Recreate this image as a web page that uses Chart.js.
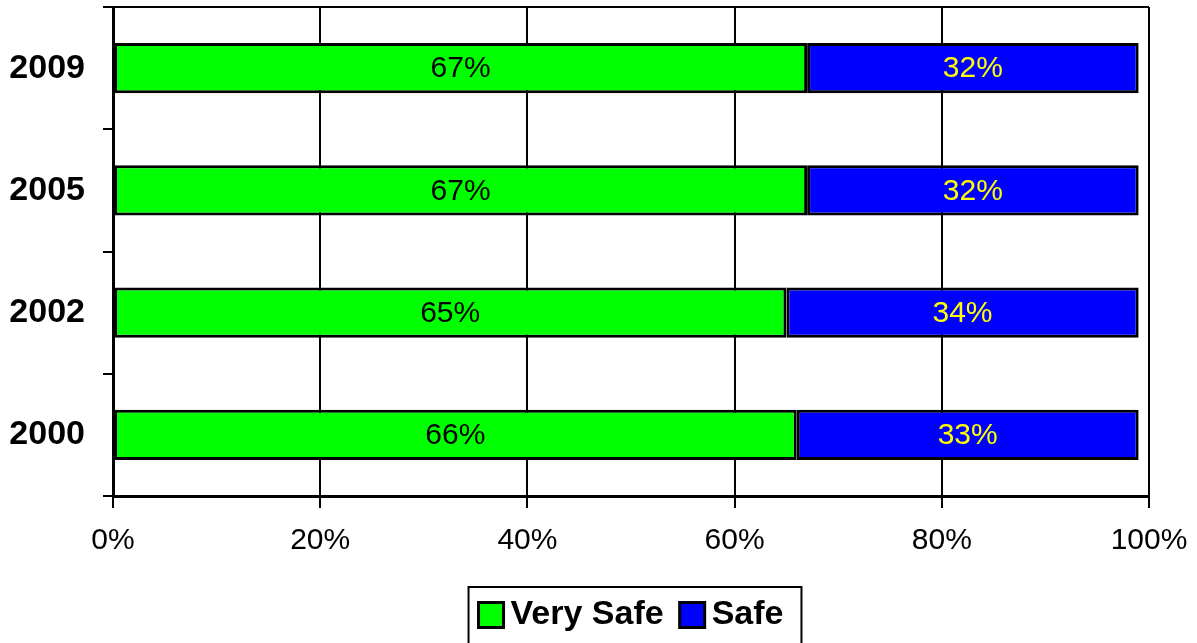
<!DOCTYPE html>
<html>
<head>
<meta charset="utf-8">
<script src="https://cdn.jsdelivr.net/npm/chart.js@4"></script>
<style>
  html, body { margin: 0; padding: 0; background: #fff; }
  #wrap { width: 1197px; height: 643px; }
</style>
</head>
<body>
<div id="wrap"><canvas id="chart"></canvas></div>
<script>
// 데이터
const years = ["2009", "2005", "2002", "2000"];
const verySafe = [67, 67, 65, 66];
const safe = [32, 32, 34, 33];
const xTicks = [0, 20, 40, 60, 80, 100];

const FONT = "'Liberation Sans', Arial, sans-serif";

// 막대 안에 값 표시
const barLabels = {
  id: "barLabels",
  afterDatasetsDraw(chart) {
    const ctx = chart.ctx;
    ctx.save();
    ctx.font = "30px " + FONT;
    ctx.textAlign = "center";
    ctx.textBaseline = "middle";
    chart.data.datasets.forEach((ds, i) => {
      const meta = chart.getDatasetMeta(i);
      meta.data.forEach((bar, j) => {
        const p = bar.getProps(["x", "y", "base"], true);
        ctx.fillStyle = ds.labelColor;
        ctx.fillText(ds.data[j] + "%", (p.x + p.base) / 2, p.y + 1);
      });
    });
    ctx.restore();
  },
};

// 플롯 위쪽 테두리 + 범례 (플롯 영역 기준 가운데 정렬)
const frames = {
  id: "frames",
  afterDraw(chart) {
    const ctx = chart.ctx;
    const a = chart.chartArea;
    ctx.save();
    ctx.strokeStyle = "#000";
    ctx.lineWidth = 2;
    ctx.beginPath();
    ctx.moveTo(a.left - 10, a.top);
    ctx.lineTo(a.right, a.top);
    ctx.stroke();

    // 범례
    ctx.font = "bold 34px " + FONT;
    ctx.textBaseline = "middle";
    ctx.textAlign = "left";
    const box = 25, gapText = 7, gapItem = 16;
    const items = chart.data.datasets.map((ds) => ({
      ds,
      w: ctx.measureText(ds.label).width,
    }));
    const total =
      items.reduce((s, it) => s + box + gapText + it.w, 0) +
      gapItem * (items.length - 1);
    let x = (a.left + a.right) / 2 - total / 2;
    const cy = 615;
    ctx.lineWidth = 2;
    ctx.strokeRect(x - 10, 587, total + 28, 70);
    items.forEach((it) => {
      ctx.fillStyle = it.ds.backgroundColor;
      ctx.fillRect(x, cy - box / 2, box, box);
      ctx.lineWidth = 3;
      ctx.strokeRect(x, cy - box / 2, box, box);
      ctx.fillStyle = "#000";
      ctx.fillText(it.ds.label, x + box + gapText, cy);
      x += box + gapText + it.w + gapItem;
    });
    ctx.restore();
  },
};

new Chart(document.getElementById("chart"), {
  type: "bar",
  data: {
    labels: years,
    datasets: [
      {
        label: "Very Safe",
        data: verySafe,
        backgroundColor: "#00ff00",
        borderColor: "#000",
        borderWidth: 3,
        borderSkipped: false,
        labelColor: "#000",
      },
      {
        label: "Safe",
        data: safe,
        backgroundColor: "#0000ff",
        borderColor: "#000",
        borderWidth: 3,
        borderSkipped: false,
        labelColor: "#ffff00",
      },
    ],
  },
  options: {
    indexAxis: "y",
    responsive: true,
    maintainAspectRatio: false,
    animation: false,
    layout: { padding: { left: 0, top: 7, right: 5, bottom: 56 } },
    datasets: { bar: { barPercentage: 0.41, categoryPercentage: 1 } },
    plugins: {
      tooltip: { enabled: false },
      legend: { display: false },
    },
    scales: {
      x: {
        stacked: true,
        min: 0,
        max: 100,
        afterBuildTicks: (axis) => {
          axis.ticks = xTicks.map((v) => ({ value: v }));
        },
        afterFit: (s) => {
          s.height = 91;
          s.paddingRight = 48;
        },
        grid: { color: "#000", lineWidth: 2, tickLength: 12 },
        border: { color: "#000", width: 3 },
        ticks: {
          color: "#000",
          padding: 15,
          font: { family: FONT, size: 30 },
          callback: (v) => v + "%",
        },
      },
      y: {
        stacked: true,
        offset: true,
        afterFit: (s) => {
          s.width = 113;
          s.paddingTop = 0;
          s.paddingBottom = 0;
        },
        grid: {
          offset: true,
          drawOnChartArea: false,
          color: "#000",
          lineWidth: 2,
          tickLength: 10,
        },
        border: { color: "#000", width: 3 },
        ticks: {
          color: "#000",
          padding: 18,
          font: { family: FONT, size: 34, weight: "bold" },
        },
      },
    },
  },
  plugins: [barLabels, frames],
});
</script>
</body>
</html>
